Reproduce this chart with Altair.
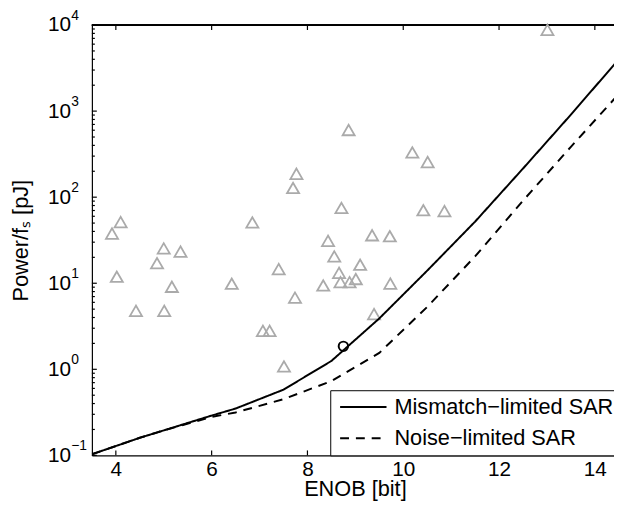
import altair as alt
import pandas as pd

# ---------------- data ----------------
enob_tri = [4.10, 3.92, 5.00, 5.35, 4.86, 4.02, 5.17, 4.42, 5.01, 6.85,
            6.42, 7.40, 7.07, 7.21, 7.51, 7.74, 7.77, 7.70, 8.71, 9.35,
            9.72, 8.43, 8.56, 9.10, 8.66, 8.33, 8.69, 8.88, 9.01, 9.73,
            9.39, 10.19, 10.51, 10.42, 10.86, 13.01, 8.86]
pwr_tri = [51.3, 37.8, 25.4, 23.3, 17.1, 11.9, 9.1, 4.78, 4.78, 50.9,
           9.87, 14.6, 2.80, 2.80, 1.08, 6.8, 187, 128, 75, 36.1,
           35.2, 31.1, 20.5, 16.4, 13.2, 9.42, 10.3, 10.3, 11.2, 9.9,
           4.38, 331, 256, 70.5, 68.9, 8790, 603]

enob_circle = [8.75]
pwr_circle = [1.85]

enob_line = [3.5, 4.5, 5.0, 6.0, 6.5, 7.5, 8.5, 9.5, 10.5, 11.5, 12.5, 13.5, 14.5]
pwr_mismatch = [0.103, 0.16, 0.195, 0.29, 0.35, 0.58, 1.25, 3.9, 14.0, 52, 215, 910, 4000]
pwr_noise = [0.103, 0.16, 0.195, 0.28, 0.315, 0.45, 0.73, 1.55, 5.3, 20.5, 91, 385, 1580]
series_names = ["Mismatch\u2212limited SAR", "Noise\u2212limited SAR"]

x_ticks = [4, 6, 8, 10, 12, 14]
y_ticks = [0.1, 1, 10, 100, 1000, 10000]
y_exps = ["\u22121", "0", "1", "2", "3", "4"]
y_minor = [m * 10.0 ** e for e in range(-1, 4) for m in range(2, 10)]

# ---------------- layout ----------------
W, H = 529, 436
FONT = "Liberation Sans"
FS = 21      # tick labels
FT = 22      # titles and legend
xs = alt.Scale(domain=[3.5, 14.4], nice=False, zero=False)
ys = alt.Scale(type="log", domain=[0.1, 10000], nice=False)

lines_df = pd.DataFrame({
    "enob": enob_line + enob_line,
    "pwr": pwr_mismatch + pwr_noise,
    "series": [series_names[0]] * len(enob_line) + [series_names[1]] * len(enob_line),
})
tri_df = pd.DataFrame({"enob": enob_tri, "pwr": pwr_tri})
circ_df = pd.DataFrame({"enob": enob_circle, "pwr": pwr_circle})
exp_df = pd.DataFrame({"enob": [3.5] * len(y_ticks), "pwr": y_ticks, "lab": y_exps})
xt_df = pd.DataFrame({"enob": x_ticks})
yt_df = pd.DataFrame({"pwr": y_ticks})
ym_df = pd.DataFrame({"pwr": y_minor})

common_ax = dict(grid=False, labelFlush=False, labelOverlap=False, labelBound=False,
                 domainColor="black", labelColor="black", labelFont=FONT,
                 labelFontSize=FS, titleFont=FONT, titleFontSize=FT,
                 titleFontWeight="normal", titleColor="black", domainWidth=1.2,
                 ticks=False, tickSize=0)

lines = alt.Chart(lines_df).mark_line(color="black", strokeWidth=2, clip=True).encode(
    x=alt.X("enob:Q", scale=xs, axis=alt.Axis(
        orient="bottom", values=x_ticks, labelPadding=3,
        title="ENOB [bit]", titleX=266.5, titleY=41, titleAlign="center",
        titleBaseline="alphabetic", **common_ax)),
    y=alt.Y("pwr:Q", scale=ys, axis=alt.Axis(
        orient="left", values=y_ticks, labelExpr="'10'",
        labelAlign="left", labelBaseline="middle", labelPadding=45,
        title="Power/f\u209b [pJ]", titleX=-65, titleY=H / 2, titleAngle=270,
        titleAlign="center", titleBaseline="alphabetic", **common_ax)),
    strokeDash=alt.StrokeDash("series:N", scale=alt.Scale(domain=series_names, range=[[1, 0], [9, 7]]),
        legend=alt.Legend(orient="none", legendX=241.5, legendY=370, title=None,
                          symbolType="M-1.4,0H8.0", symbolSize=100, symbolStrokeWidth=2,
                          symbolStrokeColor="black", labelFont=FONT, labelFontSize=FT,
                          labelColor="black", labelOffset=37, labelLimit=0,
                          strokeColor="black", fillColor="white", padding=6,
                          rowPadding=9.6)),
)

tris = alt.Chart(tri_df).mark_point(shape="triangle-up", filled=False, size=150,
                                    strokeWidth=1.8, color="#aaaaaa", opacity=1).encode(
    x=alt.X("enob:Q", scale=xs),
    y=alt.Y("pwr:Q", scale=ys),
)

circ = alt.Chart(circ_df).mark_point(shape="circle", filled=False, size=90,
                                     strokeWidth=2, color="black", opacity=1).encode(
    x=alt.X("enob:Q", scale=xs),
    y=alt.Y("pwr:Q", scale=ys),
)

exps = alt.Chart(exp_df).mark_text(align="left", baseline="middle", dx=-21, dy=-9.5,
                                   font=FONT, fontSize=14, color="black").encode(
    x=alt.X("enob:Q", scale=xs),
    y=alt.Y("pwr:Q", scale=ys),
    text="lab:N",
)

# inward tick marks (MATLAB style) and top frame line
tick_style = dict(color="black", strokeWidth=1.2)
xt_bottom = alt.Chart(xt_df).mark_rule(**tick_style).encode(
    x=alt.X("enob:Q", scale=xs), y=alt.value(H), y2=alt.value(H - 5))
xt_top = alt.Chart(xt_df).mark_rule(**tick_style).encode(
    x=alt.X("enob:Q", scale=xs), y=alt.value(0), y2=alt.value(5))
yt_major = alt.Chart(yt_df).mark_rule(**tick_style).encode(
    y=alt.Y("pwr:Q", scale=ys), x=alt.value(0), x2=alt.value(5))
yt_minor = alt.Chart(ym_df).mark_rule(**tick_style).encode(
    y=alt.Y("pwr:Q", scale=ys), x=alt.value(0), x2=alt.value(3))
top_line = alt.Chart(xt_df).mark_rule(color="black", strokeWidth=1.2).encode(
    x=alt.value(0), x2=alt.value(W), y=alt.value(0))

chart = alt.layer(
    xt_bottom, xt_top, yt_major, yt_minor, top_line, tris, circ, lines, exps
).resolve_scale(
    x="shared", y="shared"
).properties(
    width=W, height=H,
    padding={"left": 85, "top": 14, "right": 0, "bottom": 46},
    autosize=alt.AutoSizeParams(type="none"),
    background="white",
).configure_view(stroke=None)

chart.save("out.html", embed_options={"renderer": "svg", "actions": False})
